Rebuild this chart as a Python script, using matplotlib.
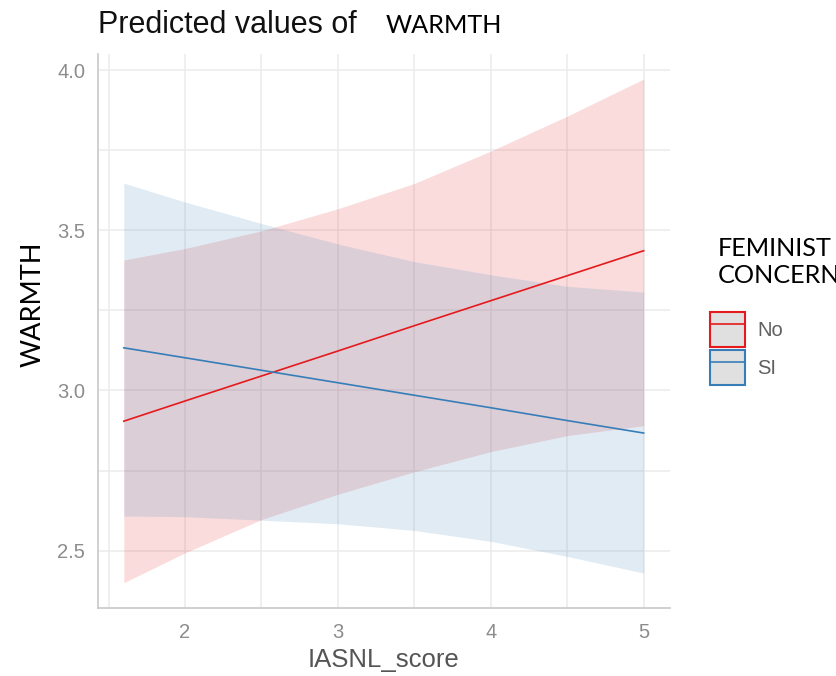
import matplotlib.pyplot as plt
from matplotlib.patches import Patch
from matplotlib.lines import Line2D
from matplotlib.ticker import MultipleLocator

# predicted values
x = [1.6, 2.0, 2.5, 3.0, 3.5, 4.0, 4.5, 5.0]

no_fit = [2.904, 2.967, 3.045, 3.123, 3.202, 3.280, 3.358, 3.436]
no_low = [2.400, 2.493, 2.597, 2.676, 2.746, 2.809, 2.859, 2.890]
no_high = [3.407, 3.443, 3.498, 3.567, 3.646, 3.747, 3.856, 3.972]

si_fit = [3.133, 3.102, 3.063, 3.024, 2.985, 2.946, 2.906, 2.867]
si_low = [2.608, 2.606, 2.595, 2.584, 2.563, 2.529, 2.482, 2.430]
si_high = [3.647, 3.588, 3.521, 3.457, 3.402, 3.361, 3.325, 3.307]

groups = ["No", "SI"]
red = "#e41a1c"
blue = "#377eb8"

fig = plt.figure(figsize=(8.36, 6.76), dpi=100)
ax = fig.add_axes([0.117, 0.1006, 0.684, 0.820])

ax.fill_between(x, no_low, no_high, color=red, alpha=0.15, lw=0)
ax.fill_between(x, si_low, si_high, color=blue, alpha=0.15, lw=0)
ax.plot(x, no_fit, color=red, lw=1.2)
ax.plot(x, si_fit, color=blue, lw=1.2)

ax.set_xlim(1.43, 5.17)
ax.set_ylim(2.321, 4.051)
ax.set_xticks([2, 3, 4, 5])
ax.set_yticks([2.5, 3.0, 3.5, 4.0])
ax.set_yticklabels(["2.5", "3.0", "3.5", "4.0"])
ax.xaxis.set_minor_locator(MultipleLocator(0.5))
ax.yaxis.set_minor_locator(MultipleLocator(0.25))
ax.grid(True, which="both", color="#ebebeb", lw=1.1, zorder=0)
ax.set_axisbelow(True)

for s in ["top", "right"]:
    ax.spines[s].set_visible(False)
for s in ["left", "bottom"]:
    ax.spines[s].set_color("#c8c8c8")
    ax.spines[s].set_linewidth(1.2)

ax.tick_params(which="both", length=0, labelsize=14.5, labelcolor="#8c8c8c",
               labelfontfamily="Liberation Sans")
ax.tick_params(axis="x", pad=11)
ax.tick_params(axis="y", pad=9)

fig.text(98 / 836, 1 - 33 / 676, "Predicted values of", fontsize=22,
         family="Liberation Sans", color="#111111", va="baseline")
fig.text(386 / 836, 1 - 33 / 676, "WARMTH", fontsize=18.2, family="Lato",
         color="black", va="baseline")
fig.text(384 / 836, 1 - 660 / 676, "IASNL_score", fontsize=18.5,
         family="Liberation Sans", color="#555555", ha="center", va="center")
fig.text(33 / 836, 1 - 304 / 676, "WARMTH", fontsize=19.5, family="Lato",
         rotation=90, ha="center", va="center")
fig.text(718 / 836, 1 - 262 / 676, "FEMINIST\nCONCERN", fontsize=18.2,
         family="Lato", ha="left", va="center", linespacing=1.2)

handles = []
for c in [red, blue]:
    handles.append((Patch(facecolor="#e0e0e0", edgecolor=c, lw=1.5),
                    Line2D([], [], color=c, lw=1.2)))
fig.legend(handles, groups, loc="upper left", bbox_to_anchor=(710 / 836, 1 - 312 / 676),
           frameon=False, borderpad=0, borderaxespad=0,
           handlelength=1.75, handleheight=2.3, handletextpad=0.6,
           labelspacing=0.15, prop={"family": "Liberation Sans", "size": 14.5},
           labelcolor="#606060")

fig.savefig("out.png", dpi=100)
